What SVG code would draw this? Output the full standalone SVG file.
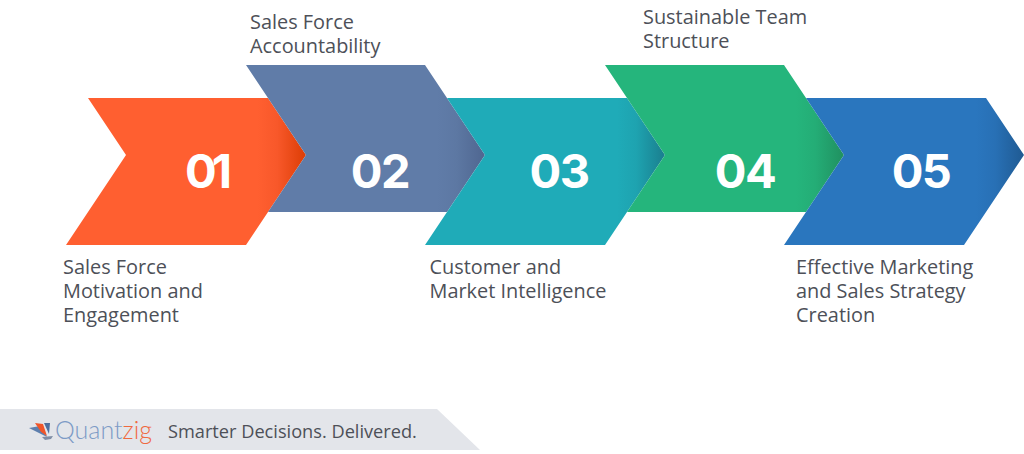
<svg xmlns="http://www.w3.org/2000/svg" width="1024" height="454" viewBox="0 0 1024 454">
<style>
.lbl{font-family:"Open Sans","DejaVu Sans",sans-serif;font-size:19.9px;fill:#4d5058}
.num{font-family:Inter,"Liberation Sans",sans-serif;font-size:47px;font-weight:700;fill:#fff;text-anchor:middle;letter-spacing:-1.5px}
</style>
<defs>
<linearGradient id="g1" gradientUnits="userSpaceOnUse" x1="258" y1="0" x2="306" y2="0"><stop offset="0" stop-color="#ff5f30"/><stop offset="0.4" stop-color="#f8582a"/><stop offset="1" stop-color="#dc3d05"/></linearGradient>
<linearGradient id="g2" gradientUnits="userSpaceOnUse" x1="437" y1="0" x2="485" y2="0"><stop offset="0" stop-color="#607ca8"/><stop offset="0.4" stop-color="#5d78a3"/><stop offset="1" stop-color="#4f6690"/></linearGradient>
<linearGradient id="g3" gradientUnits="userSpaceOnUse" x1="617" y1="0" x2="665" y2="0"><stop offset="0" stop-color="#1fabb8"/><stop offset="0.4" stop-color="#1ea3b0"/><stop offset="1" stop-color="#1a7e8e"/></linearGradient>
<linearGradient id="g4" gradientUnits="userSpaceOnUse" x1="796" y1="0" x2="844" y2="0"><stop offset="0" stop-color="#25b57c"/><stop offset="0.4" stop-color="#24ad76"/><stop offset="1" stop-color="#209060"/></linearGradient>
<linearGradient id="g5" gradientUnits="userSpaceOnUse" x1="976" y1="0" x2="1024" y2="0"><stop offset="0" stop-color="#2a76be"/><stop offset="0.4" stop-color="#2870b5"/><stop offset="1" stop-color="#1f5a92"/></linearGradient>
</defs>
<rect width="1024" height="454" fill="#fff"/>
<g id="node-01">
<polygon points="88,98 268,98 306,155 246,245 66,245 126,155" fill="url(#g1)"/>
<text class="num" x="206" y="188" style="letter-spacing:-5px">01</text>
<text class="lbl"><tspan x="63" y="274">Sales Force</tspan><tspan x="63" y="298">Motivation and</tspan><tspan x="63" y="322">Engagement</tspan></text>
</g>
<g id="node-02">
<polygon points="246,65 425,65 485,155 447,212 268,212 306,155" fill="url(#g2)"/>
<text class="num" x="380" y="188">02</text>
<text class="lbl"><tspan x="250" y="29">Sales Force</tspan><tspan x="250" y="53">Accountability</tspan></text>
</g>
<g id="node-03">
<polygon points="447,98 627,98 665,155 605,245 425,245 485,155" fill="url(#g3)"/>
<text class="num" x="559" y="188">03</text>
<text class="lbl"><tspan x="429.500" y="274">Customer and</tspan><tspan x="429.500" y="298">Market Intelligence</tspan></text>
</g>
<g id="node-04">
<polygon points="605,65 784,65 844,155 806,212 627,212 665,155" fill="url(#g4)"/>
<text class="num" x="745" y="188">04</text>
<text class="lbl"><tspan x="643" y="24">Sustainable Team</tspan><tspan x="643" y="48">Structure</tspan></text>
</g>
<g id="node-05">
<polygon points="806,98 986,98 1024,155 964,245 784,245 844,155" fill="url(#g5)"/>
<text class="num" x="921" y="188">05</text>
<text class="lbl"><tspan x="796" y="274">Effective Marketing</tspan><tspan x="796" y="298">and Sales Strategy</tspan><tspan x="796" y="322">Creation</tspan></text>
</g>
<g id="footer">
<polygon points="0,409 437,409 480,450 0,450" fill="#e3e5ea"/>
<polygon points="29,428 40,426 47,437" fill="#5d7fae"/>
<polygon points="35,423 43,424 47,436 41,432" fill="#f0562a"/>
<polygon points="44,423 50,423 49,434" fill="#4d6f9f"/>
<polygon points="42,437 53,436 51,439 45,440" fill="#7f8da5"/>
<text x="55" y="439" font-family="Lato,'Open Sans',sans-serif" font-size="25px" font-weight="300" fill="#7d9bc6">Quant<tspan fill="#f0693f">zig</tspan></text>
<text x="168" y="438" font-family="'Open Sans',sans-serif" font-size="18.200px" fill="#4d5058">Smarter Decisions. Delivered.</text>
</g>
<g id="connectors"/>
</svg>
